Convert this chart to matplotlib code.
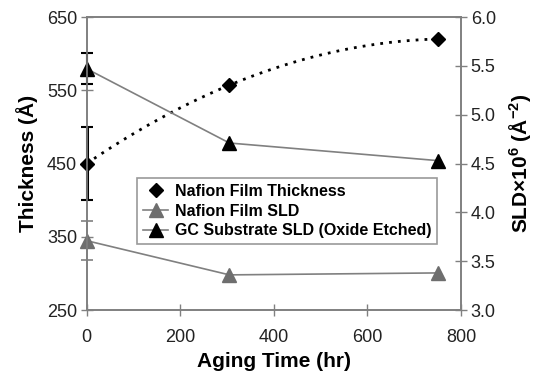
import numpy as np
import matplotlib
matplotlib.use("Agg")
import matplotlib.pyplot as plt
from matplotlib.lines import Line2D

plt.rcParams['font.family'] = ['Liberation Sans', 'DejaVu Sans']
plt.rcParams['mathtext.fontset'] = 'custom'
plt.rcParams['mathtext.bf'] = 'Liberation Sans:bold'
plt.rcParams['mathtext.rm'] = 'Liberation Sans:bold'
plt.rcParams['mathtext.default'] = 'bf'

# Data
aging_time = [0, 305, 750]
thickness = [450, 557, 620]
thickness_err = [50, 0, 0]
nafion_sld = [3.71, 3.36, 3.38]
nafion_sld_err = [0.20, 0, 0]
gc_sld = [5.47, 4.71, 4.53]
gc_sld_err = [0.16, 0, 0]

xticks = [0, 200, 400, 600, 800]
yticks_left = [250, 350, 450, 550, 650]
yticks_right = [3.0, 3.5, 4.0, 4.5, 5.0, 5.5, 6.0]

gray = '#808080'
fig = plt.figure(figsize=(5.33, 3.74), dpi=100)
ax = fig.add_axes([0.1627, 0.171, 0.7023, 0.7835])
ax2 = ax.twinx()


def noclip(container):
    for child in container.get_children():
        child.set_clip_on(False)


# Thickness trendline (2nd order polynomial)
coef = np.polyfit(aging_time, thickness, 2)
xs = np.linspace(0, 750, 200)
ax.plot(xs, np.polyval(coef, xs), color='black', lw=2, linestyle=(0, (1, 2.2)), zorder=3)
noclip(ax.errorbar(aging_time[:1], thickness[:1], yerr=thickness_err[:1], fmt='none',
                   ecolor='black', elinewidth=2.2, capsize=4, capthick=1.5, zorder=4))
ax.plot(aging_time, thickness, linestyle='none', marker='D', color='black', markersize=7,
        zorder=5, clip_on=False)

# SLD series on right axis
noclip(ax2.errorbar(aging_time[:1], nafion_sld[:1], yerr=nafion_sld_err[:1], fmt='none',
                    ecolor=gray, elinewidth=1.2, capsize=4, capthick=1.2))
ax2.plot(aging_time, nafion_sld, color=gray, lw=1.2, marker='^', markersize=10,
         markerfacecolor='#6e6e6e', markeredgecolor='#6e6e6e', clip_on=False)
noclip(ax2.errorbar(aging_time[:1], gc_sld[:1], yerr=gc_sld_err[:1], fmt='none',
                    ecolor='black', elinewidth=1.5, capsize=4, capthick=1.5))
ax2.plot(aging_time, gc_sld, color=gray, lw=1.2, marker='^', markersize=10,
         markerfacecolor='black', markeredgecolor='black', clip_on=False)

ax.set_xlim(0, 800)
ax.set_ylim(250, 650)
ax2.set_ylim(3.0, 6.0)
ax.set_xticks(xticks)
ax.set_yticks(yticks_left)
ax2.set_yticks(yticks_right)
ax2.set_yticklabels([f'{v:.1f}' for v in yticks_right])

for a in (ax, ax2):
    for s in a.spines.values():
        s.set_color(gray)
        s.set_linewidth(1.2)
    a.tick_params(direction='inout', length=8, width=1, color=gray, labelsize=13,
                  labelcolor='#222222', pad=3)
ax.tick_params(axis='x', pad=10)

ax.set_xlabel('Aging Time (hr)', fontsize=15, fontweight='bold', labelpad=4)
ax.set_ylabel('Thickness (Å)', fontsize=15, fontweight='bold', labelpad=6)
ax2.set_ylabel(r'SLD×10$^{6}$ (Å$^{-2}$)', fontsize=15, fontweight='bold', labelpad=8)

handles = [
    Line2D([], [], linestyle='none', marker='D', color='black', markersize=7),
    Line2D([], [], color=gray, lw=1.2, marker='^', markersize=10,
           markerfacecolor='#6e6e6e', markeredgecolor='#6e6e6e'),
    Line2D([], [], color=gray, lw=1.2, marker='^', markersize=10,
           markerfacecolor='black', markeredgecolor='black'),
]
labels = ['Nafion Film Thickness', 'Nafion Film SLD', 'GC Substrate SLD (Oxide Etched)']
leg = ax2.legend(handles, labels, loc='upper left', bbox_to_anchor=(0.135, 0.45),
                 prop={'size': 11.5, 'weight': 'bold'}, frameon=True, fancybox=False,
                 edgecolor=gray, handlelength=1.6, handletextpad=0.4,
                 labelspacing=0.3, borderpad=0.35, borderaxespad=0)
leg.get_frame().set_linewidth(1.2)

fig.savefig('out.png', dpi=100)
